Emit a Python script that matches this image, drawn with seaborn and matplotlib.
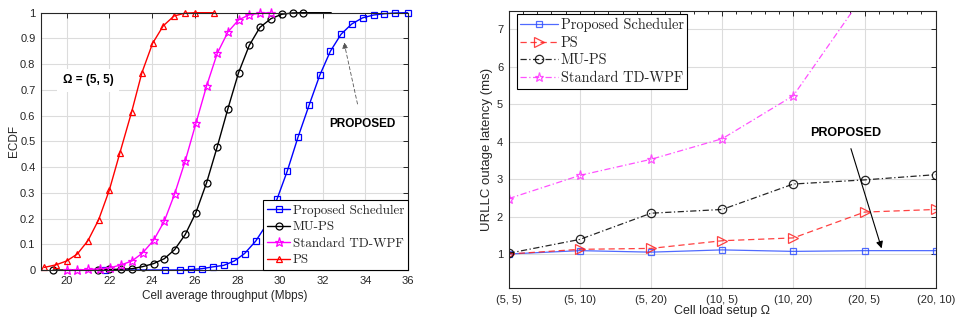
import numpy as np
import pandas as pd
import matplotlib
matplotlib.use("Agg")
import matplotlib.pyplot as plt
from matplotlib.ticker import MultipleLocator
import seaborn as sns

# ---- Left panel: ECDF of cell average throughput (Mbps), load (5, 5) ----
ps_x = [18.95, 19.5, 20.0, 20.5, 21.0, 21.5, 22.0, 22.5, 23.05, 23.53, 24.03, 24.53, 25.03, 25.53, 26.03, 26.9]
ps_y = [0.01, 0.02, 0.035, 0.062, 0.114, 0.195, 0.31, 0.456, 0.615, 0.767, 0.881, 0.949, 0.987, 0.998, 1.0, 1.0]

wpf_x = [20.0, 20.5, 21.0, 21.55, 22.05, 22.56, 23.06, 23.56, 24.08, 24.58, 25.06, 25.56,
         26.06, 26.56, 27.06, 27.56, 28.06, 28.56, 29.06, 29.58]
wpf_y = [0.0, 0.0, 0.002, 0.005, 0.009, 0.02, 0.035, 0.066, 0.116, 0.19, 0.295, 0.424,
         0.57, 0.715, 0.842, 0.925, 0.972, 0.992, 0.998, 1.0]

mups_x = [19.37, 21.45, 22.0, 22.55, 23.06, 23.56, 24.08, 24.58, 25.06, 25.56, 26.06, 26.56,
          27.06, 27.56, 28.06, 28.56, 29.06, 29.58, 30.09, 30.59, 31.09, 32.4]
mups_y = [0.0, 0.0, 0.002, 0.003, 0.005, 0.013, 0.025, 0.044, 0.079, 0.138, 0.223, 0.339,
          0.479, 0.627, 0.767, 0.873, 0.943, 0.977, 0.994, 0.999, 1.0, 1.0]

prop_x = [21.81, 24.62, 25.33, 25.84, 26.34, 26.84, 27.36, 27.86, 28.34, 28.86, 29.38, 29.86, 30.34,
          30.84, 31.37, 31.86, 32.36, 32.86, 33.36, 33.87, 34.39, 34.89, 35.4, 35.98]
prop_y = [0.0, 0.0, 0.0, 0.002, 0.005, 0.012, 0.018, 0.035, 0.064, 0.112, 0.178, 0.275, 0.384,
          0.515, 0.642, 0.756, 0.85, 0.916, 0.956, 0.98, 0.991, 0.996, 0.999, 1.0]

# ---- Right panel: URLLC outage latency (ms) per cell load setup ----
loads = ["(5, 5)", "(5, 10)", "(5, 20)", "(10, 5)", "(10, 20)", "(20, 5)", "(20, 10)"]
lat_prop = [1.0, 1.09, 1.05, 1.11, 1.07, 1.09, 1.09]
lat_ps = [1.0, 1.125, 1.15, 1.355, 1.43, 2.12, 2.19]
lat_mups = [1.02, 1.39, 2.09, 2.19, 2.87, 2.98, 3.12]
lat_wpf = [2.48, 3.10, 3.53, 4.08, 5.23, 7.95, np.nan]

sns.set_theme(style="white")
plt.rcParams["font.family"] = ["Liberation Sans", "DejaVu Sans"]
plt.rcParams["axes.unicode_minus"] = False

TXT = "#262626"
GRID = "#dcdcdc"

fig = plt.figure(figsize=(9.57, 3.2), dpi=100)
W, H = 957.0, 320.0
ax1 = fig.add_axes([41 / W, (H - 270) / H, (408 - 41) / W, (270 - 12.7) / H])
ax2 = fig.add_axes([508.7 / W, (H - 287.7) / H, 427 / W, 277 / H])


def style_axes(ax):
    for s in ax.spines.values():
        s.set_color(TXT)
        s.set_linewidth(0.8)
        s.set_visible(True)
    ax.tick_params(direction="in", which="both", top=True, right=True,
                   colors=TXT, labelcolor=TXT, labelsize=8, length=3.5, width=0.7, pad=4)
    ax.tick_params(which="minor", length=2)
    ax.grid(True, which="major", color=GRID, linewidth=0.8)
    ax.set_axisbelow(True)


# ---------- left ----------
ecdf_series = [
    ("Proposed Scheduler", prop_x, prop_y, "#0000ff", "s", None),
    ("MU-PS", mups_x, mups_y, "#000000", "o", list(range(len(mups_x) - 1))),
    ("Standard TD-WPF", wpf_x, wpf_y, "#ff00ff", "*", None),
    ("PS", ps_x, ps_y, "#ff0000", "^", None),
]
for name, xs, ys, col, mk, every in ecdf_series:
    df = pd.DataFrame({"thr": xs, "ecdf": ys})
    sns.lineplot(data=df, x="thr", y="ecdf", ax=ax1, color=col, marker=mk,
                 markersize=6.5 if mk == "*" else 5, markerfacecolor="none",
                 markeredgecolor=col, markeredgewidth=0.9, linewidth=1.0,
                 sort=False, estimator=None, label=name, markevery=every, clip_on=False)

ax1.set_xlim(18.8, 36)
ax1.set_ylim(0, 1)
ax1.set_xticks(np.arange(20, 37, 2))
ax1.set_yticks(np.round(np.arange(0, 1.01, 0.1), 1))
ax1.set_yticklabels(["0"] + [f"{v:.1f}" for v in np.arange(0.1, 0.95, 0.1)] + ["1"])
style_axes(ax1)
ax1.set_xlabel("Cell average throughput (Mbps)", fontsize=8.5, color=TXT, labelpad=3)
ax1.set_ylabel("ECDF", fontsize=8.5, color=TXT, labelpad=0)

ax1.text(19.83, 0.738, "\u03a9 = (5, 5)", fontsize=8.5, fontweight="bold", color="black",
         va="center", ha="left",
         bbox=dict(facecolor="white", edgecolor="none", pad=4))
ax1.annotate("PROPOSED", xy=(33.0, 0.885), xytext=(33.84, 0.567),
             fontsize=8.5, fontweight="bold", color="black", ha="center", va="center",
             arrowprops=dict(arrowstyle="-|>", color="#555555", linestyle=(0, (4, 3)),
                             linewidth=0.6, mutation_scale=9, shrinkA=8, shrinkB=0,
                             facecolor="black"))

leg1 = ax1.legend(loc="lower right", bbox_to_anchor=(1.0, 0.0), frameon=True, fancybox=False,
                  edgecolor="black", framealpha=1, borderaxespad=0.0,
                  prop={"family": "cmr10", "size": 9.4}, handlelength=1.75,
                  handletextpad=0.2, borderpad=0.3, labelspacing=0.33)
leg1.get_frame().set_linewidth(0.8)

# ---------- right ----------
xpos = np.arange(len(loads))
lat_series = [
    ("Proposed Scheduler", lat_prop, "#3050ff", "s", "-", 5),
    ("PS", lat_ps, "#ff2020", ">", (0, (5, 3)), 6.5),
    ("MU-PS", lat_mups, "#000000", "o", (0, (5, 2, 1, 2)), 6),
    ("Standard TD-WPF", lat_wpf, "#ff33ff", "*", (0, (5, 2, 1, 2)), 6.5),
]
for name, ys, col, mk, ls, ms in lat_series:
    df = pd.DataFrame({"load": xpos, "lat": ys})
    sns.lineplot(data=df, x="load", y="lat", ax=ax2, color=col, marker=mk, linestyle=ls,
                 markersize=ms, markerfacecolor="none", markeredgecolor=col,
                 markeredgewidth=0.9, linewidth=0.9, sort=False, estimator=None,
                 label=name, alpha=0.85)

ax2.set_xlim(0, len(loads) - 1)
ax2.set_ylim(0.1, 7.5)
ax2.set_xticks(xpos)
ax2.set_xticklabels(loads)
ax2.xaxis.set_minor_locator(MultipleLocator(0.2))
ax2.set_yticks(np.arange(1, 8))
style_axes(ax2)
ax2.tick_params(axis="x", which="major", pad=5)
ax2.set_xlabel("Cell load setup \u03a9", fontsize=9, color=TXT, labelpad=0.5)
ax2.set_ylabel("URLLC outage latency (ms)", fontsize=9.5, color=TXT, labelpad=3)

ax2.annotate("PROPOSED", xy=(5.24, 1.15), xytext=(4.74, 4.24),
             fontsize=9, fontweight="bold", color="black", ha="center", va="center",
             arrowprops=dict(arrowstyle="-|>", color="black", linewidth=0.8,
                             mutation_scale=10, shrinkA=5, shrinkB=0))

leg2 = ax2.legend(loc="upper left", bbox_to_anchor=(8 / 427, 1 - 3.3 / 277), frameon=True,
                  fancybox=False, edgecolor="black", framealpha=1, borderaxespad=0.0,
                  prop={"family": "cmr10", "size": 10.4}, handlelength=2.6,
                  handletextpad=0.2, borderpad=0.25, labelspacing=0.28)
leg2.get_frame().set_linewidth(0.8)

fig.savefig("out.png", dpi=100)
